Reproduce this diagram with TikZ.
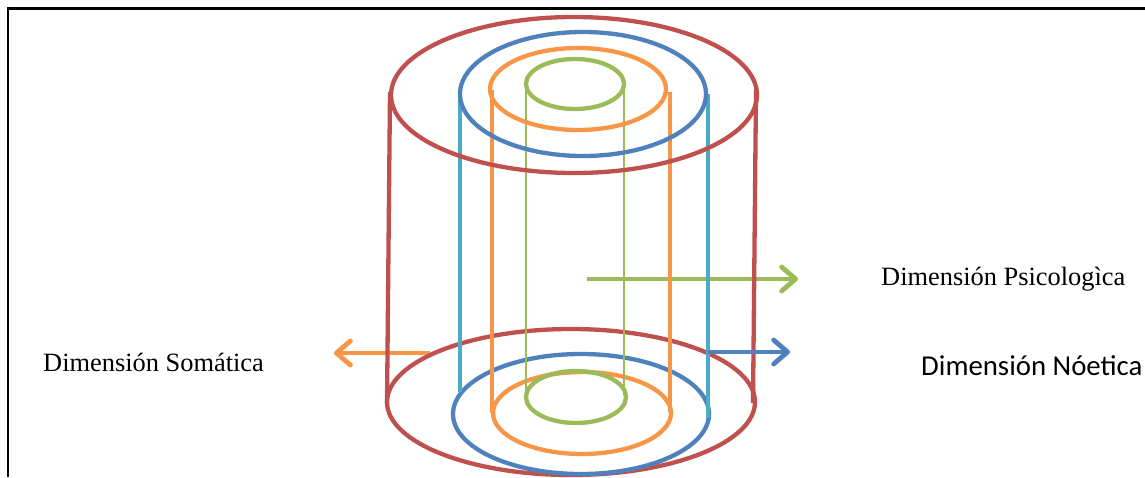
\documentclass[tikz,border=0pt]{standalone}
\usepackage{fontspec}
\setmainfont{Liberation Serif}
\newfontfamily\calib{Carlito}
\usetikzlibrary{arrows.meta}
\definecolor{cred}{HTML}{C0504D}
\definecolor{cblue}{HTML}{4F81BD}
\definecolor{corange}{HTML}{F79646}
\definecolor{cgreen}{HTML}{9BBB59}
\definecolor{ccyan}{HTML}{4BACC6}
\begin{document}
\begin{tikzpicture}[x=1pt,y=-1pt,
  ring/.style={line width=4.3pt},
  wall/.style={line width=4.3pt},
  thinwall/.style={line width=1.8pt},
  lbl/.style={anchor=base west,inner sep=0pt,font=\fontsize{26.4}{30}\selectfont},
  arr/.style={line width=4.8pt,-{Straight Barb[length=14pt,width=24pt,round]}}]
\useasboundingbox (0,0) rectangle (1145,477);
\fill[white] (0,0) rectangle (1145,477);
% frame
\draw[line width=2.5pt] (8,477) -- (8,8.5) -- (1145,8.5);
% arrows (behind)
\coordinate (gs) at (587,279); \coordinate (ge) at (798,279);
\coordinate (os) at (430,353); \coordinate (oe) at (334,353);
\coordinate (bs) at (708,352); \coordinate (be) at (790,352);
\draw[arr,cgreen] (gs) -- (ge);
\draw[arr,corange] (os) -- (oe);
% bottom ellipses
\draw[ring,cred] (571,402) ellipse [x radius=184pt,y radius=73pt];
\draw[ring,cblue] (581,414) ellipse [x radius=128pt,y radius=60pt];
\draw[ring,corange] (582,413) ellipse [x radius=89pt,y radius=41pt];
\draw[ring,cgreen] (576,397) ellipse [x radius=50pt,y radius=26pt];
% walls
\draw[wall,cred] (390,92) -- (387,404);
\draw[wall,cred] (756,90) -- (753,403);
\draw[wall,ccyan] (460,92) -- (460,392);
\draw[wall,ccyan] (708,94) -- (708,418);
\draw[wall,corange] (492,90) -- (492,413);
\draw[wall,corange] (670,92) -- (670,412);
\draw[thinwall,cgreen] (526,86) -- (526,395);
\draw[thinwall,cgreen] (624,86) -- (624,395);
% top ellipses
\draw[ring,cred] (574,95) ellipse [x radius=183pt,y radius=78pt];
\draw[ring,cblue] (583,94) ellipse [x radius=123pt,y radius=62pt];
\draw[ring,corange] (578,89) ellipse [x radius=88pt,y radius=41pt];
\draw[ring,cgreen] (575,84) ellipse [x radius=49pt,y radius=25pt];
\draw[arr,cblue] (bs) -- (be);
% labels
\node[lbl] (som) at (43,371) {Dimensión Somática};
\node[lbl] (psi) at (881,285) {Dimensión Psicologìca};
\node[lbl,font=\calib\fontsize{28.8}{32}\selectfont] (noe) at (921,375) {Dimensión Nóetica};
\end{tikzpicture}
\end{document}
